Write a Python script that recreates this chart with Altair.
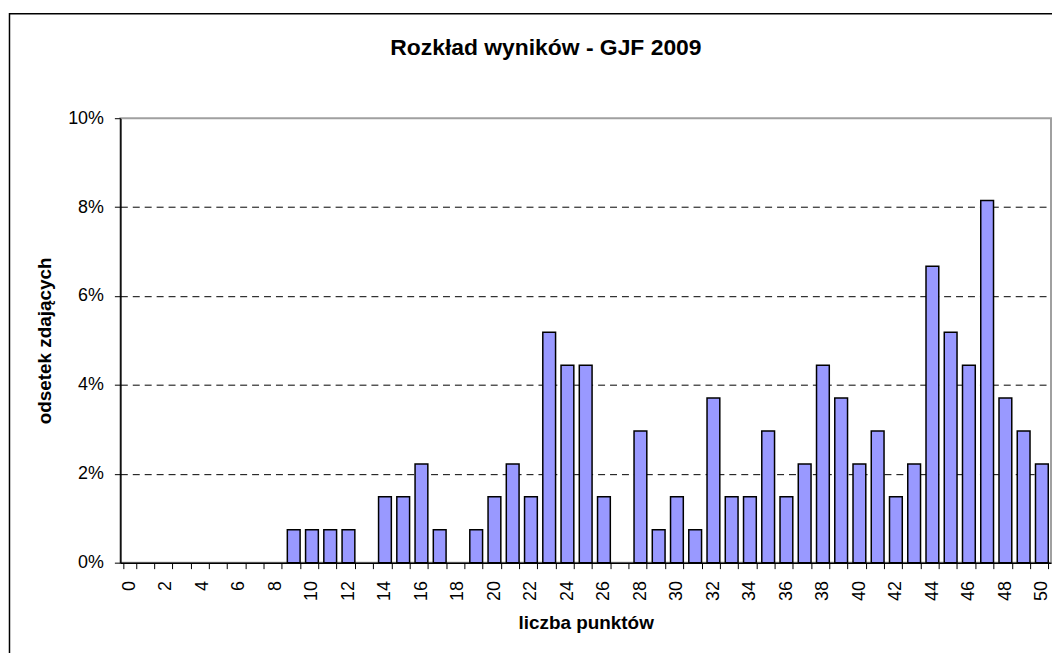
import altair as alt
import pandas as pd

points = list(range(0, 51))
counts = [0, 0, 0, 0, 0, 0, 0, 0, 0, 1,
          1, 1, 1, 0, 2, 2, 3, 1, 0, 1,
          2, 3, 2, 7, 6, 6, 2, 0, 4, 1,
          2, 1, 5, 2, 2, 4, 2, 3, 6, 5,
          3, 4, 2, 3, 9, 7, 6, 11, 5, 4,
          3]
total = 135
shares = [c / total for c in counts]

df = pd.DataFrame({"pkt": points, "odsetek": shares})

FONT = "Liberation Sans"
W, H = 936, 447

bars = alt.Chart(df).mark_bar(
    color="#9999FF", stroke="#000000", strokeWidth=1.5
).encode(
    x=alt.X(
        "pkt:O",
        scale=alt.Scale(domain=points, paddingInner=0.3, paddingOuter=0.15),
        axis=alt.Axis(
            title="liczba punktów",
            labelAngle=-90,
            labelExpr="datum.value % 2 == 0 ? datum.label : ''",
            tickBand="extent",
            tickSize=6,
            tickColor="#000000",
            tickWidth=1,
            domainColor="#000000",
            domainWidth=1.5,
            labelPadding=12,
            labelFontSize=18,
            labelFont=FONT,
            labelColor="#000000",
            titleFont=FONT,
            titleFontSize=19,
            titleFontWeight="bold",
            titleColor="#000000",
            titleY=66,
            titleBaseline="alphabetic",
            grid=False,
        ),
    ),
    y=alt.Y(
        "odsetek:Q",
        scale=alt.Scale(domain=[0, 0.10], nice=False),
        axis=alt.Axis(
            title="odsetek zdających",
            values=[0, 0.02, 0.04, 0.06, 0.08, 0.10],
            format=".0%",
            tickSize=6,
            tickColor="#000000",
            tickWidth=1,
            domainColor="#000000",
            domainWidth=1.5,
            labelPadding=11,
            labelFontSize=18,
            labelFont=FONT,
            labelColor="#000000",
            titleFont=FONT,
            titleFontSize=19,
            titleFontWeight="bold",
            titleColor="#000000",
            titleX=-76,
            titleY=223.5,
            titleAngle=-90,
            titleAlign="center",
            titleBaseline="middle",
            grid=True,
            gridColor="#000000",
            gridDash=[7, 5],
            gridWidth=1,
            gridOpacity={"condition": {"test": "datum.value < 0.001 || datum.value > 0.099", "value": 0}, "value": 1},
        ),
    ),
).transform_filter("datum.odsetek > 0")

frame = alt.Chart(df).mark_rect(
    fill=None, stroke="#000000", strokeWidth=1.5
).encode(
    x=alt.value(-111.5), x2=alt.value(1100), y=alt.value(-105), y2=alt.value(700)
).transform_filter("datum.pkt == 0")

chart = alt.layer(frame, bars).properties(
    width=W,
    height=H,
    title=alt.TitleParams(
        "Rozkład wyników - GJF 2009",
        font=FONT,
        fontSize=23,
        fontWeight="bold",
        color="#000000",
        anchor="middle",
        dx=-40,
        offset=-65,
        baseline="alphabetic",
    ),
    autosize=alt.AutoSizeParams(type="none"),
    padding={"left": 113, "top": 109, "right": 1, "bottom": 89},
    background="#FFFFFF",
).configure_view(
    stroke="#A0A0A0", strokeWidth=2
)

chart.save("out.html", embed_options={"renderer": "svg", "actions": False})
